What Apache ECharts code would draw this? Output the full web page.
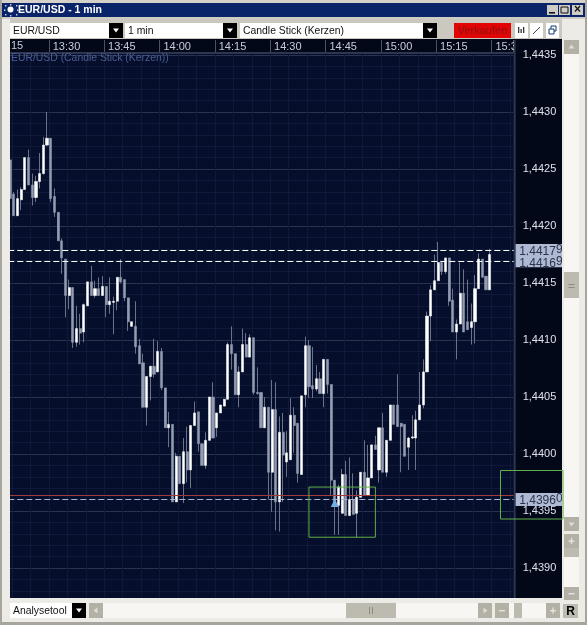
<!DOCTYPE html>
<html>
<head>
<meta charset="utf-8">
<title>EUR/USD - 1 min</title>
<style>html,body{margin:0;padding:0;background:#d6d3cc}#chart{width:587px;height:625px}</style>
<script src="https://cdn.jsdelivr.net/npm/echarts@6/dist/echarts.min.js"></script>
</head>
<body>
<div id="chart"></div>
<script>
// One-minute EUR/USD candles, in points (1/100000) relative to 1,4400. First bar is 13:19.
const basePrice = 1.44;
const firstMinute = 13 * 60 + 19;
const slotCount = 137;
const opens = [258,228,209,223,232,260,236,225,239,246,271,277,226,212,187,171,139,146,98,110,107,130,151,139,145,139,147,131,133,134,155,153,137,112,112,95,80,41,68,77,72,90,58,23,26,-42,-2,-26,2,-14,25,37,9,-10,12,50,23,36,42,48,96,88,52,72,96,85,102,54,54,23,41,-16,39,-42,19,-7,-5,34,27,-18,52,95,60,57,66,53,83,61,-23,-45,-52,-18,-54,-40,-52,-38,-16,-36,-21,8,-14,23,-16,12,43,43,27,26,6,14,14,30,43,72,121,144,152,168,160,172,135,107,114,141,116,111,116,145,171,156,144];
const closes = [224,209,224,232,260,236,225,239,246,271,277,224,212,187,172,139,146,98,110,106,131,151,139,145,139,147,131,134,134,155,151,137,116,116,94,79,41,68,77,70,90,58,23,26,-42,-2,-26,2,-14,25,36,9,-10,12,50,14,36,43,48,96,88,52,72,96,85,102,54,53,23,41,-16,39,-42,19,-1,1,34,25,-17,51,95,59,57,66,53,83,61,-23,-43,-29,-18,-54,-40,-53,-38,-16,-36,-21,8,4,23,-16,12,43,26,24,24,-2,14,15,30,43,72,121,144,152,168,160,172,134,107,114,141,107,109,116,145,171,155,144,175];
const lows = [224,209,209,214,232,236,218,221,233,245,270,221,208,187,158,120,127,93,94,96,98,130,139,137,139,139,120,123,105,126,150,134,108,112,88,79,41,25,47,67,72,56,23,6,-42,-42,-26,-43,-25,-30,25,2,-10,-13,12,14,15,36,42,48,74,52,41,72,85,85,52,52,23,23,-40,-51,-67,-68,-42,-20,-5,1,-25,-18,41,49,49,55,53,41,53,-36,-71,-71,-52,-54,-54,-53,-73,-38,-36,-36,-21,4,-25,-16,-20,12,26,24,-16,-2,-14,13,-14,30,40,72,99,144,152,157,158,130,107,83,114,107,109,96,97,145,155,144,144];
const highs = [258,230,232,234,260,267,246,244,264,278,300,277,233,212,189,171,153,146,130,123,132,151,165,152,155,156,147,155,138,155,171,153,137,116,134,101,88,68,77,101,99,93,58,37,26,1,-2,14,24,25,46,37,9,19,50,63,36,43,48,98,112,88,77,110,106,105,102,76,54,50,41,65,63,33,36,20,49,41,27,51,103,100,94,78,72,83,83,61,-23,-27,-13,-6,-3,-17,-32,-16,12,8,8,16,23,36,12,43,43,70,27,26,15,34,38,72,83,125,148,175,186,168,172,172,145,118,168,162,153,132,157,176,171,156,180];

// Price levels shown as guide lines, with the tag text on the right.
const bidLevel = 1.44179;
const askLevel = 1.44169;
const markerLevel = 1.4396;
const entryLevel = 1.43964;
const selectionTop = 1.43971;
const selectionBottom = 1.43927;
const selectionFrom = '14:40';
const selectionTo = '14:58';
const arrowTime = '14:47';
const arrowPrice = 1.43957;

const toPrice = p => +(basePrice + p / 100000).toFixed(5);
const fmtTime = m => Math.floor(m / 60) + ':' + String(m % 60).padStart(2, '0');
const categories = Array.from({ length: slotCount }, (_, i) => fmtTime(firstMinute + i));
const candles = opens.map((o, i) => [toPrice(o), toPrice(closes[i]), toPrice(lows[i]), toPrice(highs[i])]);
// Body layer: same open and close, with the extremes pulled in so only the body shows.
const bodies = opens.map((o, i) => [toPrice(o), toPrice(closes[i]), toPrice(Math.min(o, closes[i])), toPrice(Math.max(o, closes[i]))]);
const everyMinutes = n => i => (firstMinute + i) % n === 0;

// Builds the surrounding window furniture: panels, combo boxes, buttons.
const FONT = '10.4px "Liberation Sans", Arial, sans-serif';
const chrome = [];
function rect(x, y, w, h, fill, z, extra) {
  chrome.push(Object.assign({ type: 'rect', silent: true, z: z, shape: { x, y, width: w, height: h }, style: { fill } }, extra || {}));
}
function label(text, x, y, fill, z, opts) {
  chrome.push({ type: 'text', silent: true, z: z, style: Object.assign({ text, x, y, fill, font: FONT, textVerticalAlign: 'middle' }, opts || {}) });
}
function tri(cx, cy, r, dir, fill, z) {
  const pts = dir === 'down' ? [[cx - r, cy - r / 2], [cx + r, cy - r / 2], [cx, cy + r / 2 + 1]]
    : dir === 'up' ? [[cx - r, cy + r / 2], [cx + r, cy + r / 2], [cx, cy - r / 2 - 1]]
    : dir === 'left' ? [[cx + r / 2, cy - r], [cx + r / 2, cy + r], [cx - r / 2 - 1, cy]]
    : [[cx - r / 2, cy - r], [cx - r / 2, cy + r], [cx + r / 2 + 1, cy]];
  chrome.push({ type: 'polygon', silent: true, z: z, shape: { points: pts }, style: { fill } });
}
function combo(x, w, text, y) {
  rect(x, y, w, 15, '#ffffff', 110);
  rect(x + w - 14, y, 14, 15, '#000000', 111);
  tri(x + w - 7, y + 7, 3, 'down', '#ffffff', 112);
  label(text, x + 3, y + 8, '#111111', 112);
}
function grayBtn(x, y, w, h, glyph) {
  rect(x, y, w, h, '#b3b0a6', 110);
  if (glyph === '+' || glyph === '-') {
    rect(x + w / 2 - 3, y + h / 2 - 0.5, 6, 1.4, '#e6e4df', 111);
    if (glyph === '+') rect(x + w / 2 - 0.7, y + h / 2 - 3, 1.4, 6, '#e6e4df', 111);
  } else if (glyph) {
    tri(x + w / 2, y + h / 2, 3, glyph, '#dedcd6', 111);
  }
}

// Chart surface, under the axes and series.
rect(10, 39, 552, 559, '#020818', -3);
rect(10, 53, 505, 545, '#050e2a', -2);

// Everything that frames the plot sits above the series.
rect(0, 598, 587, 27, '#ecebe6', 100);
rect(0, 0, 587, 39, '#ecebe6', 100);
rect(0, 39, 10, 586, '#ecebe6', 100);
rect(562, 39, 25, 586, '#ecebe6', 100);
rect(0, 0, 587, 3, '#d4d1ca', 101);
rect(0, 0, 2, 625, '#a8a59e', 101);
rect(585, 0, 2, 625, '#a8a59e', 101);
rect(0, 622, 587, 3, '#a8a59e', 101);
rect(2, 3, 583, 14, '#0a246a', 101);
rect(2, 17, 583, 2, '#cfccc5', 101);
rect(10, 19, 552, 20, '#cbc8c0', 101);
label('EUR/USD - 1 min', 18, 10, '#ffffff', 112, { font: 'bold 10.5px "Liberation Sans Narrow", "Liberation Sans", Arial, sans-serif' });

// Title-bar emblem.
chrome.push({ type: 'circle', silent: true, z: 112, shape: { cx: 10.5, cy: 9.5, r: 3 }, style: { fill: '#ffffff' } });
[[5, 5], [16, 5], [5, 14], [16, 14], [10, 4], [10, 15], [4, 9.5], [17, 9.5]].forEach(p => rect(p[0], p[1], 1.4, 1.4, '#c9d3ee', 112));

// Window buttons.
[[547, '_'], [559, 'box'], [572, 'x']].forEach(b => {
  rect(b[0], 5, 11, 10, '#cfccc5', 110);
  if (b[1] === '_') rect(b[0] + 2, 12, 6, 1.6, '#111111', 111);
  if (b[1] === 'box') chrome.push({ type: 'rect', silent: true, z: 111, shape: { x: b[0] + 2, y: 7, width: 7, height: 6 }, style: { fill: 'none', stroke: '#111111', lineWidth: 1 } });
  if (b[1] === 'x') label('×', b[0] + 5.5, 10, '#111111', 111, { textAlign: 'center', font: 'bold 12px "Liberation Sans", Arial, sans-serif' });
});

// Instrument, period and chart-type selectors.
combo(10, 113, 'EUR/USD', 23);
combo(125, 112, '1 min', 23);
combo(240, 197, 'Candle Stick (Kerzen)', 23);
rect(454, 23, 57, 15, '#e00606', 110);
label('Verkaufen', 482.5, 31, '#8e1010', 112, { textAlign: 'center', font: '11px "Liberation Sans", Arial, sans-serif' });
[515, 530, 546].forEach(x => rect(x, 23, 13, 15, '#ffffff', 110));
[518, 520.5, 523].forEach((x, i) => rect(x, 27 + (i % 2) * 2, 1.3, 6 - (i % 2) * 2, '#333333', 112));
chrome.push({ type: 'line', silent: true, z: 112, shape: { x1: 533, y1: 34, x2: 540, y2: 27 }, style: { stroke: '#444444', lineWidth: 1 } });
chrome.push({ type: 'rect', silent: true, z: 112, shape: { x: 551, y: 26, width: 5, height: 5 }, style: { fill: 'none', stroke: '#123a70', lineWidth: 1 } });
chrome.push({ type: 'rect', silent: true, z: 112, shape: { x: 549, y: 29, width: 5, height: 5 }, style: { fill: '#ffffff', stroke: '#123a70', lineWidth: 1 } });

// Vertical price scrollbar and zoom strip.
rect(564, 40, 15, 491, '#f7f6f3', 105);
grayBtn(564, 40, 15, 14, 'up');
rect(564, 272, 15, 26, '#bdbab0', 110);
rect(568.5, 284, 6, 1, '#8d8a80', 111);
rect(568.5, 287, 6, 1, '#8d8a80', 111);
grayBtn(564, 517, 15, 14, 'down');
rect(564, 534, 15, 66, '#f7f6f3', 105);
grayBtn(564, 534, 15, 14, '+');
rect(564, 548, 15, 9, '#bdbab0', 110);
grayBtn(564, 587, 15, 13, '-');

// Bottom tool row.
combo(10, 76, 'Analysetool', 603);
rect(89, 603, 403, 15, '#f7f6f3', 105);
grayBtn(89, 603, 14, 15, 'left');
rect(346, 603, 50, 15, '#bdbab0', 110);
rect(369, 607, 1, 7, '#8d8a80', 111);
rect(372, 607, 1, 7, '#8d8a80', 111);
grayBtn(478, 603, 14, 15, 'right');
rect(495, 603, 65, 15, '#f7f6f3', 105);
grayBtn(495, 603, 14, 15, '-');
rect(514, 603, 8, 15, '#bdbab0', 110);
grayBtn(546, 603, 14, 15, '+');
rect(563, 604, 15, 14, '#bdbab0', 110);
label('R', 570.5, 611.5, '#000000', 112, { textAlign: 'center', font: 'bold 12px "Liberation Sans", Arial, sans-serif' });

// Time strip: clips the last label against the price column.
rect(515, 40, 47, 10, '#020818', 60);
rect(10, 52, 505, 2, '#2d3650', 61);
rect(514, 40, 1.6, 558, '#2f384f', 62);
label('15', 11, 45.5, '#c8ccd8', 63, { font: '11px "Liberation Sans", Arial, sans-serif' });
label('EUR/USD (Candle Stick (Kerzen))', 11, 58, '#4d5e94', 63);

// Second selection box, over the price column.
chrome.push({ type: 'rect', silent: true, z: 120, shape: { x: 500.5, y: 470.5, width: 62.5, height: 48.5 }, style: { fill: 'none', stroke: '#62b04a', lineWidth: 1 } });

const tagLabel = (text, sup, h) => ({
  show: true, position: 'end', distance: 1.5, formatter: '{a|' + text + '}{b|' + sup + '}',
  backgroundColor: '#aeb9d3', color: '#2d3447', height: h, padding: [0, 4, 0, 4], align: 'left',
  rich: {
    a: { font: '10.6px "Liberation Sans", Arial, sans-serif', color: '#2d3447' },
    b: { font: '7.5px "Liberation Sans", Arial, sans-serif', color: '#2d3447', verticalAlign: 'top', padding: [0, 0, 4, 0] }
  }
});

const option = {
  animation: false,
  backgroundColor: '#d6d3cc',
  graphic: { elements: chrome },
  grid: { left: 8.3, top: 55, width: 505.4, height: 570, containLabel: false, outerBoundsMode: 'none' },
  xAxis: [
    {
      type: 'category', position: 'top', offset: 2, data: categories, boundaryGap: true,
      axisLine: { show: false },
      axisTick: { show: true, length: 13, interval: everyMinutes(15), lineStyle: { color: '#4a5268' } },
      axisLabel: { interval: everyMinutes(15), align: 'left', margin: 1, padding: [0, 0, 0, 2], color: '#c8ccd8', fontFamily: '"Liberation Sans", Arial, sans-serif', fontSize: 11, hideOverlap: false },
      splitLine: { show: true, interval: everyMinutes(15), lineStyle: { color: '#262f4c', width: 1 } }
    },
    {
      type: 'category', position: 'top', data: categories, boundaryGap: true,
      axisLine: { show: false }, axisTick: { show: false }, axisLabel: { show: false },
      splitLine: { show: true, interval: everyMinutes(5), lineStyle: { color: '#10193a', width: 1 } }
    }
  ],
  yAxis: {
    type: 'value', position: 'right', min: 1.4385, max: 1.4435, interval: 0.0005, scale: true,
    axisLine: { show: false }, axisTick: { show: false },
    axisLabel: { margin: 9, padding: [2, 0, 0, 0], color: '#dfe2ea', fontFamily: '"Liberation Sans", Arial, sans-serif', fontSize: 11, formatter: v => v.toFixed(4).replace('.', ',') },
    splitLine: { show: true, lineStyle: { color: '#2a3350', width: 1 } },
    minorTick: { show: false, splitNumber: 5 },
    minorSplitLine: { show: true, lineStyle: { color: '#10193a', width: 1 } }
  },
  series: [
    {
      // Full range of each bar, drawn as a thin grey wick.
      type: 'candlestick', data: candles, barWidth: 1, clip: false, z: 3,
      itemStyle: { color: '#6c7388', color0: '#6c7388', borderColor: '#6c7388', borderColor0: '#6c7388', borderWidth: 1 },
      markLine: {
        silent: true, symbol: 'none', precision: 5, animation: false, z: 6,
        data: [
          { yAxis: entryLevel, lineStyle: { color: '#a23a3c', type: 'solid', width: 1 }, label: { show: false } },
          { yAxis: markerLevel, lineStyle: { color: '#a7b6d6', type: [6, 3], width: 1 }, label: tagLabel('1,4396', '0', 13) },
          { yAxis: bidLevel, lineStyle: { color: '#ffffff', type: [6, 3], width: 1 }, label: tagLabel('1,4417', '9', 12) },
          { yAxis: askLevel, lineStyle: { color: '#ffffff', type: [6, 3], width: 1 }, label: tagLabel('1,4416', '9', 12) }
        ]
      },
      markArea: {
        silent: true, animation: false, z: 7,
        itemStyle: { color: 'rgba(0,0,0,0)', borderColor: '#62b04a', borderWidth: 1 },
        data: [[{ xAxis: selectionFrom, yAxis: selectionTop }, { xAxis: selectionTo, yAxis: selectionBottom }]]
      },
      markPoint: {
        silent: true, animation: false, symbol: 'triangle', symbolSize: 8, z: 8,
        itemStyle: { color: '#6fb0e6' }, label: { show: false },
        data: [{ coord: [arrowTime, arrowPrice] }]
      }
    },
    {
      // Open-to-close bodies: white rising, slate falling.
      type: 'candlestick', data: bodies, barWidth: 2.6, clip: false, z: 4,
      itemStyle: { color: '#ffffff', color0: '#939cb3', borderColor: '#f0f1f4', borderColor0: '#8a93aa', borderWidth: 0.6 }
    }
  ]
};

echarts.init(document.getElementById('chart'), null, { renderer: 'canvas' }).setOption(option);
</script>
</body>
</html>
